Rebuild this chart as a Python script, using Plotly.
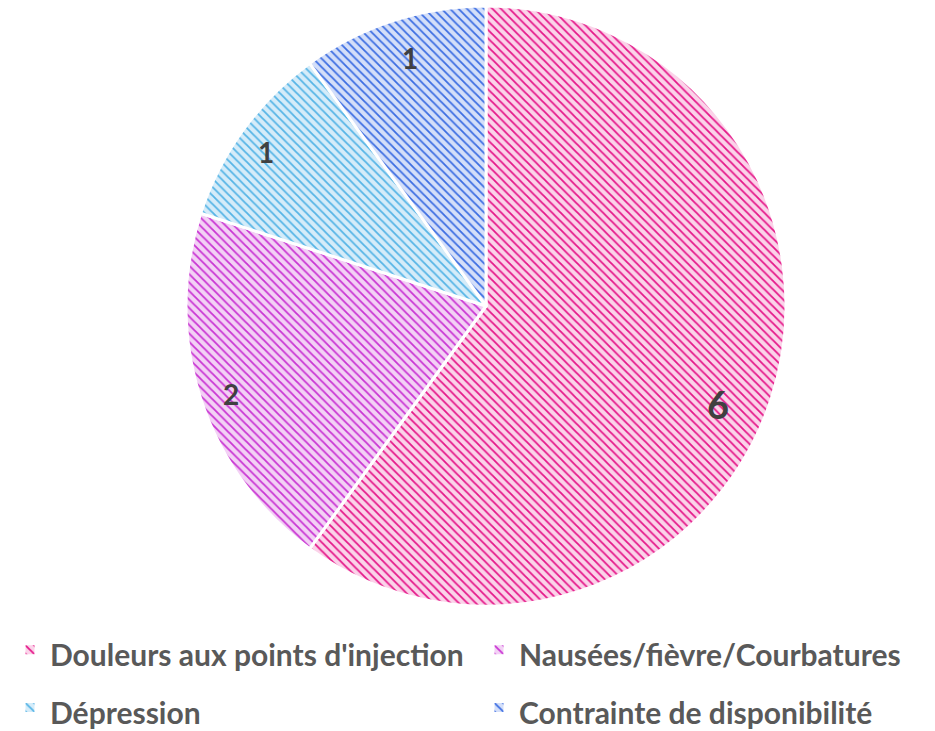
import numpy as np
import plotly.graph_objects as go

# Data
labels = ["Douleurs aux points d'injection", "Nausées/fièvre/Courbatures",
          "Dépression", "Contrainte de disponibilité"]
values = [6, 2, 1, 1]

# Styling
line_colors = ["#E5188A", "#C935D3", "#55B4E6", "#3C6DE2"]
fill_colors = ["#FBD3E9", "#F3D1F5", "#D5ECF9", "#D4DFF9"]
label_sizes = [38, 28, 28, 28]
label_radius = [0.84, 0.90, 0.895, 0.865]  # fraction of pie radius
label_nudge_deg = [5, -1, -1, 1]           # small angular nudge from mid-angle

W, H = 935, 731
cx, cy, r = 486, 306, 300  # pie centre / radius in px

legend_names = [f'<span style="font-size:30px">{t}</span>' for t in labels]

fig = go.Figure(go.Pie(
    labels=legend_names,
    values=values,
    sort=False,
    direction="clockwise",
    rotation=0,
    textinfo="none",
    hoverinfo="label+value",
    marker=dict(
        colors=fill_colors,
        line=dict(color="white", width=3),
        pattern=dict(shape="\\", fgcolor=line_colors, bgcolor=fill_colors,
                     fgopacity=1, size=6, solidity=0.3, fillmode="overlay"),
    ),
    domain=dict(x=[(cx - r) / W, (cx + r) / W], y=[(H - cy - r) / H, (H - cy + r) / H]),
))

# Value labels placed along each slice's mid-angle
total = sum(values)
cum = np.cumsum([0] + values[:-1])
for v, c, sz, f, nd in zip(values, cum, label_sizes, label_radius, label_nudge_deg):
    mid = 2 * np.pi * (c + v / 2) / total + np.radians(nd)
    d = f * r
    px = cx + d * np.sin(mid)
    py = cy - d * np.cos(mid)
    fig.add_annotation(
        x=px / W, y=1 - py / H, xref="paper", yref="paper",
        xanchor="center", yanchor="middle",
        text=str(v), showarrow=False,
        font=dict(size=sz, color="#404040", family="Lato", weight="bold"),
    )

fig.update_layout(
    width=W, height=H,
    margin=dict(l=0, r=0, t=0, b=0, autoexpand=False),
    paper_bgcolor="white",
    plot_bgcolor="white",
    showlegend=True,
    legend=dict(
        orientation="h",
        x=10 / W, xanchor="left",
        y=1 - 616 / H, yanchor="top",
        entrywidth=424, entrywidthmode="pixels",
        font=dict(size=42, color="#595959", family="Lato", weight="bold"),
        itemclick=False,
    ),
)

fig.write_html("out.html")
